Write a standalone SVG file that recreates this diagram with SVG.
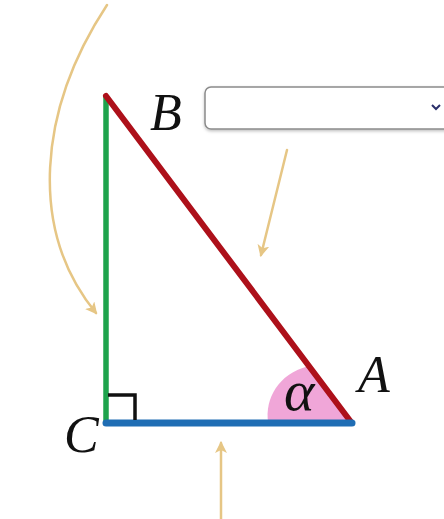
<svg xmlns="http://www.w3.org/2000/svg" width="444" height="519" viewBox="0 0 444 519">
<defs>
<style>
.lbl{font-family:"Liberation Serif","DejaVu Serif",serif;font-style:italic;font-size:52px;fill:#111}
.arr{fill:none;stroke:#e6c685;stroke-width:2.5;stroke-linecap:round}
</style>
<marker id="ah" viewBox="0 0 12 12" refX="10" refY="6" markerWidth="12" markerHeight="12" markerUnits="userSpaceOnUse" orient="auto">
<path d="M0,0 L12,6 L0,12 L3,6 Z" fill="#e6c685"/>
</marker>
<filter id="sh" x="-5%" y="-20%" width="110%" height="150%">
<feDropShadow dx="0" dy="1.5" stdDeviation="1.5" flood-color="#000" flood-opacity="0.25"/>
</filter>
</defs>
<rect width="444" height="519" fill="#ffffff"/>
<g id="angle-alpha">
<path d="M351,422 L268,422 C265,400 277,374 309,366 Z" fill="#f0a6d8"/>
</g>
<g id="triangle">
<line x1="106" y1="96" x2="106" y2="423" stroke="#1ea34c" stroke-width="5.5"/>
<line x1="106" y1="96" x2="351" y2="422" stroke="#ad101a" stroke-width="6" stroke-linecap="round"/>
<line x1="106" y1="423" x2="352" y2="423" stroke="#1f6db4" stroke-width="7" stroke-linecap="round"/>
<polyline points="108,395 135,395 135,420" fill="none" stroke="#111" stroke-width="3.5"/>
</g>
<g id="label-B"><text class="lbl" x="150" y="130">B</text></g>
<g id="label-A"><text class="lbl" x="358" y="392">A</text></g>
<g id="label-C"><text class="lbl" x="64" y="452">C</text></g>
<g id="label-alpha"><text class="lbl" x="284" y="410" style="font-size:58px">α</text></g>
<g id="dropdown">
<rect x="205" y="87" width="260" height="42" rx="6" fill="#fff" stroke="#8a8a8a" stroke-width="1.5" filter="url(#sh)"/>
<polyline points="432,105 436,109 440,105" fill="none" stroke="#2a2f6a" stroke-width="2"/>
</g>
<g id="connectors">
<path class="arr" d="M107,5 C38,110 28,230 96,313" marker-end="url(#ah)"/>
<line class="arr" x1="287" y1="150" x2="261" y2="255" marker-end="url(#ah)"/>
<line class="arr" x1="221" y1="519" x2="221" y2="443" marker-end="url(#ah)"/>
</g>
</svg>
